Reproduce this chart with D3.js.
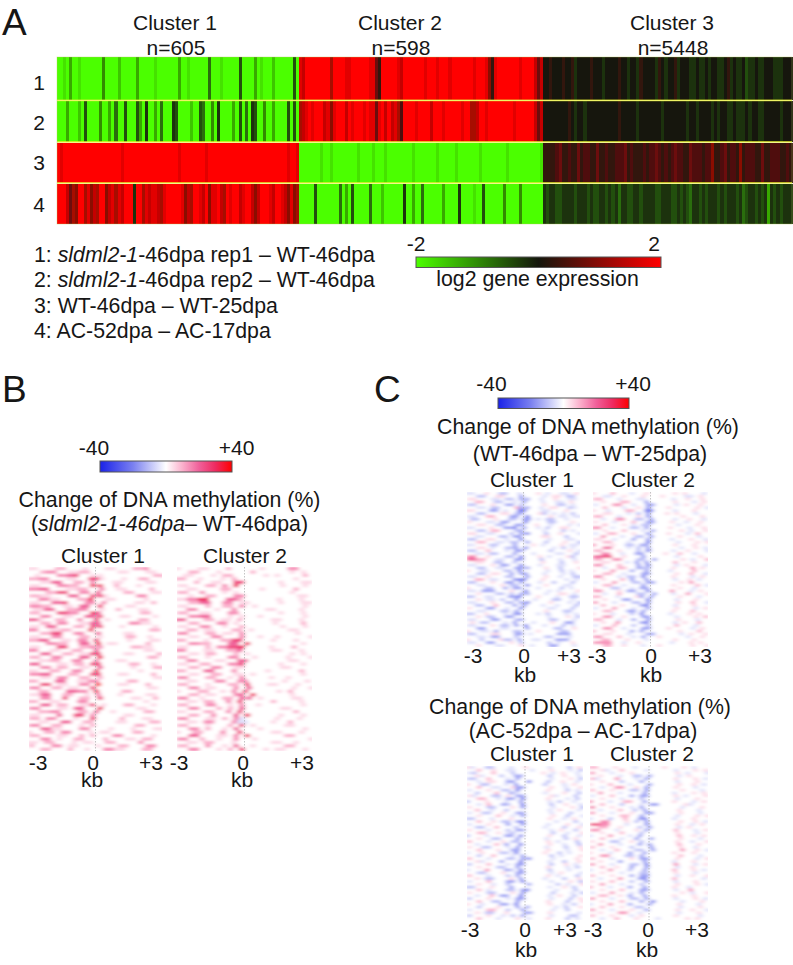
<!DOCTYPE html>
<html><head><meta charset="utf-8">
<script src="https://cdnjs.cloudflare.com/ajax/libs/d3/7.8.5/d3.min.js"></script>
<style>html,body{margin:0;padding:0;background:#fff}svg{display:block}text{font-family:"Liberation Sans",Arial,sans-serif;fill:#161616}</style>
</head><body><svg id="c" width="793" height="965"></svg>
<script>
// log2 expression stripes: base-17 digit, 0=-2, 8=0, G=+2
const exprC1 = [
"0010300100"+"0000040000"+"2000003000"+"0010000000"+"3001000000"+"5000100000"+"6000030100"+"0200000060",
"0003000206"+"0000400305"+"0060006307"+"0030500076"+"0000200650"+"0407000030"+"6050760040"+"0300006060",
"GFGGGGGGGG"+"GGGGGGGGGG"+"GFGGGGGGGG"+"GGGGGGGGGG"+"FGGGGGGGGF"+"GGGGGGGGGG"+"GGGGGGGGGG"+"GGGGGGFGGF",
"GGGEBDCGGD"+"FCEDGGCEFD"+"FEGGG7GGDF"+"EFFEDFGGGG"+"GFCEDGGFEG"+"CFFGEDGFGG"+"EFGGECEGGG"+"FEGGFECFCD"];
const exprC2 = [
"FEGGGGGGGG"+"DGGGGFFGGG"+"GGGFFB9GGG"+"GGFEGGGGGG"+"GFGGGFGGGF"+"GGGGGGGFGG"+"GFC9FGGGGG"+"GGFGGGGEBE",
"DEFGFGGGEF"+"CFGGGEGFGG"+"GFGFFBFGEG"+"EFDAGGGGFG"+"GGGEGGGFGG"+"GGGFGGDDEG"+"GFGGGGGGGG"+"FGGGGGGEBE",
"0000000100"+"1000000001"+"0000100010"+"0000000100"+"0000010000"+"0100000001"+"0000000010"+"0000000001",
"0000060000"+"0005030600"+"0005000200"+"0000700300"+"5000000300"+"0070000100"+"6000000400"+"0040000000"];
const exprC3 = [
"8898889889"+"7888898887"+"8888988788"+"7988887987"+"8897888778"+"7787887789"+"7877867787"+"7888777888",
"8888888898"+"7887888888"+"8888988888"+"7888888878"+"8888887887"+"8888787887"+"7877787887"+"7888887888",
"9999AB99A9"+"9B9AA99B99"+"A99AAAB9A9"+"99A9AABA9A"+"9ABAA99BAA"+"A9AAC99AB9"+"AA9C9AAA99"+"B99AAA99A9",
"7677667777"+"6777676677"+"6767577667"+"7677776677"+"7667676577"+"6767776767"+"7767567767"+"6737676777"];
// methylation change strings: 1..8 = +5..+40 %, a..d = -5..-20 %, . = 0
const methB1 = [
"11...22...1...11...223..","..233..1122.....11...11.",".1...3345..11.........22","2233...11..551...1..22..","..1144..22.3...11....11.",
"11...3322..66..2...1....","3344...1122..3..11....2.","...2255..33.4....22...11","2211...44..551.....33...","..3311...226..11.....1..",
"11..445...33.3.....11.2.","3322..11.44.5....11.....",".1144..2233..1..2...11..","22...5533..64.......22..","..33..11..445...11....1.",
"441..22..3..5.1.....22..","..22.33..1144.....3311..","11.44...22.55...1.....1.","33..1122...6..........22","..2255..33..4....11.....",
"11..33...22.1....22..1..","2244..11.33.5.....1...11","...3322..44.6.11.....2..","11...55..2233.....2211..","33..11..22..4........11.",
"..44..22.1155....11....2","22..33...44.6........22.","..1122..33..3...11......","44...11.22.55.....22..1.","..33.22..11.4.....1...22",
"11..22..33..6.......1...","3344...22..55...11....2.","..11.33..22.2.........11","22...44..1133.....22....","..55.11..33.7...11...2..",
"33..22.11..5.........11.","..22...4433.6....22.....","1144..22..1.3...1....11.","..33..5..22.5.....11..2.","22..11...33..........1..",
"..44.22..115.1...22...1.","33...11.44..6......11...","..2233...22.4..1.....22.","11...4..55.3.....11.....","22.33...1..5....2...11..",
"..11..44..22....11....22","33..22...1.2.......22...","..4411...33...1...1...11","1..22.33...1.11....22...","22...11..2.2...33.....1.",
"..33.1..22...2...11.22..","11.22...1.11..22....3...","2...33.11...1...22...33.","..22...2..1..3311...22.."];
const methB2 = [
"1...11...2.....1....33..","..22...1.....2......1.1.",".11...1.22.....1.1....2.","22..1...1.2..........1..","...2..11..55......1...11",
"11...22.3.6.......1...1.","..11....22.....1.....2..","22..3...1.1.........1...","..1..22...33.........11.","113366...442......1...1.",
"..2244..33.11.....1...11","11...2..22.3.1........1.","..33...1..3.....11....1.","22..11...33.......1...1.","..3344...1.1..1.......1.",
"44...22.11.2.....11...1.","..22...33.1......1....2.","11..33..1..2......1...1.","..22.11...22.1......11..","33...22.11.3.........1..",
"..11..33...3..1..1.....1","22...1..2255.....1...1..","..3322...44.6.........1.","11...2.33556....1...2...","33...11..224.....11...1.",
"..11.22...2.1.......1.1.","22...1...33..1.....1...1","..33...11..44.......11..","11..22...335......1...1.","..22..33..11......11....",
"22...44...3.....1.....2.","..11..22..11.1........1.","33...22..1.3....1..1....","..11...33..33......1...1","22...1...22.5...11...1..",
"..33.11...3.4.......1..1","1...22..1.3.5.....1.2...","..22.11...34.6......1...","33..1...22.44.1.....11..","..11.22..3.5.....2....1.",
"22...33..1.3..1.......1.","..33...2.2.4......11....","11...22..3.5.........2..","..22..3...4.6.....1...1.","33...11.2.3a.....1...1..",
"..11.33...3aa....1..2...","22...1...2.5.1.....11...","..33.2..1.4...1.......1.","1..22...3..5.....11...1.","..44...11.3.6......22...",
"33..2..1..3..1.........1","..11.22...1......11..1..","22...3..1.4..1.....22...","..33...1.2.5...1.11...1."];
const methC1 = [
"aa..1..bb..a...1.a..aa.1","..bb..11...c....a.11.bb.","11...aa.bb.cc..a..1..aa.","..22..bb..a.c...a..aa.1.","bb...1..cc.b....1..bb.a.",
"..aa.bb...2cc..a.11..ba.","11...cc.a..dd...aa...1..","..bb...11.bc...1b.a.a.b.","aa..22...cc.d....1.aa.aa",".bb...1..bb.cc.a.bb..a..",
"1...aa.cc...d....bb...1.","..11..bb..cc..1..a...a.a","aa...1..ccd.c..a.b..11..","..bb.22...bc....a...b.a.","11..aa...b.cd...b..1...a",
"..aa...bb.cc....11...b..","bb..11..a..d.....a...aa.","..22..aa.bb.c...b...1..b","aa...bb...c...1.a...1.aa","..11.a..bbc.d.....a.b.a.",
"bb..2...a.cc.....b...1.a","..aa.bb...c...a....aa..b","33..1...bb.d...1.a...1b.","4422..aa..cc...b...a..a.","..11..bb..b.....1...b..1",
"aa...1.cc..d...a...aa...","..bb..aa..ccc...1..b...1","1..aa...bb.d.....a..b.a.","..bb.11..c.cc...a...a.b.","aa..1...bb..c...1..a..bb",
"..22.aa...cdd...1....a.a","bb...1..cc.c...a..b...b.","..aa...1.bb.d...1...aa..","1...bb..c.cc...a....b.a.","aa.ccc...1..d....a.a...1",
"..1...bb.b.cc...a..11.a.","bb..aa...ccd...1...a..bb","..1.aa.b..c...a...bb..a.","aa...1..bb.cd....1...a.b","..bb..2...c.c...a..a...b",
"1...cc..a..d.....aa...b.","..aa...bb.c.....1...bb..","bb..1...a.cd...a.b...a.a","..1.bb..cc.......a...1.b","aa...cc...bc.....bb...a.",
".1.bb...a.c...a...1..cc.","aa...1.bb.c.d...a...b.a.","..cc...aa...c.....bb..1.","1..aa.c...bb...1....bb..","bb...11...cc.a.....ccc..",
"..aa.cc...b.....bb...a..","1..b...1bb.c..aa...ccc..","aa..cc...1.b.....b.a..1.","..1...aa...1.a...cc...a."];
const methC2 = [
"1...2...a..1.....1.1...a","..aa..1...1...1....aa.1.","22...a...aa.....a..1..1.","..1...22...c.....1...a.1","a...33..a..cc....a.1..1.",
"..2...a..1.c...1.....1.a","1..a...22..dd....a...1..","..11...a.b.c...1.1...a..","22...a...1.c......1...1.","..a..33..bb.c....a..1..a",
"1...a...2..cc...1..a..1.","..2...1.a.bb.....a...1..","33..a...bb.c....1...a..1","..1...2...a.c.....1.a..1","a..22...1..c...1...a.2..",
"..3...a..bb.c.....1...a.","11..a...c..c....a...1..a","..22...a...d.....a...1.1","3...1..bb.cc.....1...1..","..44...a.b.c......a..1.a",
"22...1...b.d....a..1...a","..33..a..cc....1..2..a..","4455..1...c......a....1.","22..33...bb.c.....1.a..2","..11...a.c.c.....2...1..",
"33...2...c.d.....a.1...a","..a..22..cbb....1...3.1.","1...3...c..c....a....2..","..22..a...cc.....1..2..a","33...a.bb.d.....1...a.1.",
"..1...2.c..c.....a..1.a.","a...3...bb.cc.....1.3...","..22..a...c.....1....2.a","1...bb..a.cc......1..a..","33...1.cc..d....3...a.1.",
"..a..2...bb.c...a..3...1","22...a...1c.c.....1...a.","..1...cc...d.....a...1..","3...a...bb.c.....1..2..a","..2...1...cd.....a...1..",
"a...3...a..c.....1...a.1","..22...cc.c.....1...2...","1...a...b.d.....a...1.1.","..33..1...cc.....a...1.2","22...a..c..c.....1...a..",
"..1..3....cd.....a.1..2.","a...2...b..b.....2...a..","..33..a...cc...1....a.1.","2...1...c.c.......1...2.","..11...a...cc.....a.1..1",
"33...2..a.c..1.....a..1.","..22...1...a.....1...1..","3333..a..1......a...1.1.","..22..1...a..1......1..1"];
const methD1 = [
"1a..bb...a..1....a...b.1","..2..1..aa...a...1...a.b","ab...2...b.....1.a.1..a.","..1a...b..cc.....b..1..a","bb..2...a.c......a...1.b",
"..a.11..cc..d...b..1..a.","1..bb...a.c.....b...a.1.","..2..aa..1cc.....1..a..1","a...1..bb.d.....1...b.a.","..b...2..ca.....a...1..b",
"1a...bb.1.cc.....1a...b.","..22..a.cc.d....1...a.b.","b...1...a..c.....a.b..a.","..a.2..cb..d.....b..1..a","1...bb...1.c.....a...1.b",
"..2..a..b........a.1...a","a..bb..1..cc.....a...b..","..1...2..a.c.....1..b..a","bb...a...1.......1..a.1.","..2..1.bb.cd......a...b.",
"a...1...c..c....a...1..a","..bb..2...b.....a...b..1","1...a...b.cc.....a.1..b.","..22..1.ab.......b..a..1","b...a...cc.d.....1..b..a",
"..1..bb...c.....a...b.1.","2...a..1.bb.....1.a...b.","..a...2.c..d.....1..a..b","1..bb...a.c.....a...b..1","..2...1..cc.....1...a..1",
"a..1...bb.d.....1..b.a..","..b..2...a.c.....b.a...1","2...a...bb.cd....a....1.","..1a...c...d.....a..b..1","b...2...a.cc.....b..1.a.",
"..1...bb..c.....1...a.b.","a...3...cb.d.....b...a..","..bb...1..cc.....a.1...a","2...a...b.c.....1.a...b.","..1.bb...1.c....a...b..1",
"a...2...cc.d.....a...1.b","..1..a..b...c.....b.a..1","bb...1...c.......a..1.b.","..2.a...bb.cd.....a...b.","1...bb...1.c.....b...a.b",
"..a..2.cc..d.....a.1..b.","b...1...a.cc.....a...b.1","..2..bb...c.....1...b..1","1..a...cc.d......1..a.b.","..b...1...c.c.....a.b..1",
"a...22..b..c.....a..b...","..1.bb..1...cc...1.....a","b...1..a.b.c.....a...bb.","..2...a...1.a...1...b.a."];
const methD2 = [
"22...1...a.....1...1.a..","..1a..2....a.....a...1.1","3...a...1........1.a...a","..1...a..bb.c.....a.1...","2a...3...a.c.....1...1.a",
"..1...b...c......a...1..","1...2...a...c.....1..1.a","..a..33..1.c.....1...a..","2...1...bb.c......1...a.","..3...a....c.....a...1.1",
"a...2...c.cc.....1.a...1","..1...a...b......a...1..","3...a..22..c.....1...a.1","..2...b...a.cc.....1a...","4...1...a.c.......a...1.",
"..a...2..b.c......1...a.","3...a...1..cc.....1...a.","..1...22..c......a...1.1","a...b..2..cd.....a...1..","..33...1.b.c......1..1.a",
"5533...a...c.....1..a.1.","..22..1...b.c.....a.1...","33...a...1.c.....2...a.1","..1...2...b......1...a..","a...3...a.c.......2..1.1",
"..2...a..c..c.....1...a.","1...bb..1.b......1..a..1","..3...a...c.c.....2...1.","2...1...b...c.....1..a..","..a..2...bb.c.....3..1.a",
"1...a...c..c.....1...1..","..33...bb.c.......2...a.","2...a...1.cc.....1...a.1","..1...c....c.....a...1..","3...a...bb.d.....3...a.1",
"..2..1..c..c.....a..1...","a...3...b..c.....2...1.a","..1...a...bb.....1...a..","2...1...c.cc.....a..1..1","..a...3...cd.....2.....a",
"1...2...b..c.....a...1..","..3...a...b......1...1.a","2...a...c..c.....1..a...","..1...2...cc.....a..3...","a...3...a.c.......1.a..1",
"..22..1.c..c.....1...1..","3...a...bb.c.....a...1.a","..1...2...c.d.....a...1.","a...3...c...c.....1...a.","..2...1..bb.......a...1.",
"3...a...1..c.....1..1..a","..1...33..a.......a...1.","2...1...a.1......1....a.","..a..2...1...a.....1.1.."];

const expressionStops = [-2, 0, 2];
const svg = d3.select("#c"), defs = svg.append("defs");
const ink = (s,x,y,fs,anchor="middle") => svg.append("text").attr("x",x).attr("y",y).attr("font-size",fs).attr("text-anchor",anchor).text(s);

// A: expression heatmap
const exprColor = d3.scaleLinear().domain(expressionStops).range(["#4cff00","#14160c","#ff0000"]);
const rowEdges = [[57,100],[101,141.5],[142.5,182.5],[183.5,224]];
const clusters = [{d:exprC1,x0:57,x1:299},{d:exprC2,x0:299,x1:543},{d:exprC3,x0:543,x1:792}];
defs.append("filter").attr("id","sx").attr("x","-1%").attr("width","102%").append("feGaussianBlur").attr("stdDeviation","0.6 0");
const hm = svg.append("g").attr("filter","url(#sx)");
clusters.forEach(c=>{
  c.d.forEach((str,r)=>{
    const vals = Array.from(str,ch=>(parseInt(ch,17)-8)/4);
    const x = d3.scaleBand().domain(d3.range(vals.length)).range([c.x0,c.x1]);
    hm.append("g").attr("shape-rendering","crispEdges").selectAll("rect").data(vals).join("rect")
      .attr("x",(d,i)=>x(i)).attr("width",x.bandwidth()+0.5)
      .attr("y",rowEdges[r][0]).attr("height",rowEdges[r][1]-rowEdges[r][0])
      .attr("fill",d=>exprColor(d));
  });
});
[100.3,141.8,182.8].forEach(y=>svg.append("line").attr("x1",57).attr("x2",792).attr("y1",y).attr("y2",y)
  .attr("stroke","#e8f030").attr("stroke-width",1.7).attr("stroke-opacity",.75));
svg.append("rect").attr("x",57).attr("y",57).attr("width",735).attr("height",167).attr("fill","none").attr("stroke","#b8c860").attr("stroke-width",.6).attr("stroke-opacity",.6);

ink("A",2,35,37,"start"); ink("B",2,402,37,"start"); ink("C",374,402,37,"start");
const clusterNames=["Cluster 1","Cluster 2","Cluster 3"], clusterNs=["n=605","n=598","n=5448"], clusterCx=[175,400,672];
clusterNames.forEach((s,i)=>{ink(s,clusterCx[i],30,21);ink(clusterNs[i],clusterCx[i]+1,55,21);});
["1","2","3","4"].forEach((s,i)=>ink(s,39,[90,130,170,212][i],21));

const legendLines=[["1: ","sldml2-1","-46dpa rep1 – WT-46dpa"],["2: ","sldml2-1","-46dpa rep2 – WT-46dpa"],["3: WT-46dpa – WT-25dpa"],["4: AC-52dpa – AC-17dpa"]];
legendLines.forEach((p,i)=>{
  const t=svg.append("text").attr("x",34).attr("y",[262.3,287.3,312.7,338.3][i]).attr("font-size",21.3);
  p.forEach((s,j)=>t.append("tspan").attr("font-style",j==1?"italic":"normal").text(s));
});

// colour bars
function colourBar(id,scale,stops,x,y,w,h){
  const g=defs.append("linearGradient").attr("id",id);
  stops.forEach(v=>g.append("stop").attr("offset",(v-stops[0])/(stops[stops.length-1]-stops[0])).attr("stop-color",scale(v)));
  svg.append("rect").attr("x",x).attr("y",y).attr("width",w).attr("height",h).attr("fill",`url(#${id})`).attr("stroke","#555").attr("stroke-width",1);
}
colourBar("gE",exprColor,[-2,-1,0,1,2],416,257,245,10.5);
ink("-2",416,251,21); ink("2",654,251,21);
ink("log2 gene expression",537.5,286,21.3);

const methStops=[-40,-20,0,10,20,30,40];
const methColor=d3.scaleLinear().domain(methStops).range(["#1a22e8","#7a80f0","#ffffff","#fbb0cc","#f0609a","#ee2a60","#ff0000"]);
colourBar("gM1",methColor,methStops,100,461,132,11);
colourBar("gM2",methColor,methStops,498,398,131,10.5);
ink("-40",94,455,21); ink("+40",236.5,455,21);
ink("-40",491.5,391,21); ink("+40",633,391,21);

// titles
const title="Change of DNA methylation (%)";
ink(title,169.5,507,21.3);
const t2=svg.append("text").attr("x",169.5).attr("y",531).attr("font-size",21.3).attr("text-anchor","middle");
t2.append("tspan").text("("); t2.append("tspan").attr("font-style","italic").text("sldml2-1-46dpa"); t2.append("tspan").text("– WT-46dpa)");
ink(title,588,434,21.3); ink("(WT-46dpa – WT-25dpa)",590,461,21.3);
ink(title,580,714,21.3); ink("(AC-52dpa – AC-17dpa)",583,738,21.3);

// methylation panels
defs.append("filter").attr("id","sm").attr("x","-5%").attr("y","-5%").attr("width","110%").attr("height","110%")
  .append("feGaussianBlur").attr("stdDeviation","2 0.8");
const kbDomain=[-3,0,3];
const panels=[
 {d:methB1,x:[29,162],y:[567,751],name:"Cluster 1",nx:103,ny:563,t:[38,93,151],ty:770,kx:92,ky:787},
 {d:methB2,x:[177,312],y:[567,751],name:"Cluster 2",nx:245,ny:563,t:[179,243,302],ty:770,kx:242,ky:787},
 {d:methC1,x:[467,580],y:[492,647],name:"Cluster 1",nx:532,ny:487,t:[473,524,569],ty:663,kx:525,ky:682},
 {d:methC2,x:[593,708],y:[492,647],name:"Cluster 2",nx:653,ny:487,t:[597,651,700],ty:663,kx:651,ky:682},
 {d:methD1,x:[467,583],y:[766,920],name:"Cluster 1",nx:532,ny:761,t:[470,525,565],ty:937,kx:526,ky:957},
 {d:methD2,x:[590,708],y:[766,920],name:"Cluster 2",nx:652,ny:761,t:[593,648,697],ty:937,kx:647,ky:957}];
const tickLabels=["-3","0","+3"];
const decode=ch=>ch==="."?0:(ch>="a"?-(ch.charCodeAt(0)-96)*5:+ch*5);
panels.forEach((p,pi)=>{
  const cols=24, x=d3.scaleLinear().domain([-3,3]).range(p.x);
  const y=d3.scaleBand().domain(d3.range(p.d.length)).range(p.y);
  const cw=x(0.25)-x(0);
  defs.append("clipPath").attr("id","cp"+pi).append("rect").attr("x",p.x[0]).attr("y",p.y[0]).attr("width",p.x[1]-p.x[0]).attr("height",p.y[1]-p.y[0]);
  const g=svg.append("g").attr("clip-path",`url(#cp${pi})`).append("g").attr("filter","url(#sm)");
  p.d.forEach((row,r)=>{
    const stagger=(r%3-1)*cw/3; // rows are offset slightly so cell edges do not line up vertically
    g.append("g").selectAll("rect").data(Array.from(row,decode)).join("rect")
      .attr("x",(d,i)=>x(-3+i*6/cols)+(i<12?Math.min(0,stagger):stagger)).attr("width",cw+.3)
      .attr("y",y(r)).attr("height",y.bandwidth()+.1).attr("fill",d=>methColor(d));
  });
  svg.append("line").attr("x1",x(0)).attr("x2",x(0)).attr("y1",p.y[0]).attr("y2",p.y[1]).attr("stroke","#aaa").attr("stroke-width",.7).attr("stroke-dasharray","1.5 1.5");
  ink(p.name,p.nx,p.ny,21);
  const tx=d3.scaleOrdinal().domain(kbDomain).range(p.t);
  kbDomain.forEach((v,i)=>ink(tickLabels[i],tx(v),p.ty,21));
  ink("kb",p.kx,p.ky,21);
});
</script></body></html>
